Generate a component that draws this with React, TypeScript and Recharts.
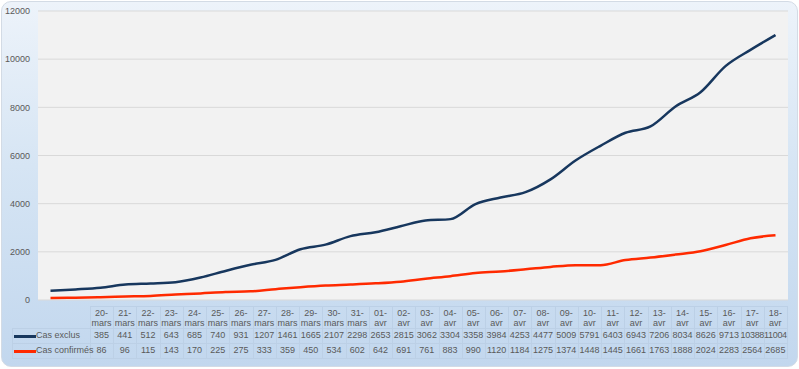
import React from "react"
import { LineChart, Line, XAxis, YAxis, CartesianGrid } from "recharts"

// dates (ligne d'en-tête du tableau)
const dates = [
  "20-mars", "21-mars", "22-mars", "23-mars", "24-mars", "25-mars", "26-mars",
  "27-mars", "28-mars", "29-mars", "30-mars", "31-mars",
  "01-avr", "02-avr", "03-avr", "04-avr", "05-avr", "06-avr", "07-avr",
  "08-avr", "09-avr", "10-avr", "11-avr", "12-avr", "13-avr", "14-avr",
  "15-avr", "16-avr", "17-avr", "18-avr",
]

const casExclus = [
  385, 441, 512, 643, 685, 740, 931, 1207, 1461, 1665, 2107, 2298, 2653, 2815,
  3062, 3304, 3358, 3984, 4253, 4477, 5009, 5791, 6403, 6943, 7206, 8034, 8626,
  9713, 10388, 11004,
]

const casConfirmes = [
  86, 96, 115, 143, 170, 225, 275, 333, 359, 450, 534, 602, 642, 691, 761, 883,
  990, 1120, 1184, 1275, 1374, 1448, 1445, 1661, 1763, 1888, 2024, 2283, 2564,
  2685,
]

const yTicks = [0, 2000, 4000, 6000, 8000, 10000, 12000]

const series = [
  { key: "exclus", name: "Cas exclus", color: "#17375e", values: casExclus },
  { key: "confirmes", name: "Cas confirmés", color: "#ff2a00", values: casConfirmes },
]

const data = dates.map((d, i) => ({
  date: d,
  exclus: casExclus[i],
  confirmes: casConfirmes[i],
}))

const FONT = "'Liberation Sans', Arial, sans-serif"
const TEXT = "#595959"
const LINE = "#bcd0e6"

// tableau de données
const tableLeft = 90
const tableRight = 787
const colW = (tableRight - tableLeft) / dates.length
const legendLeft = 12
const headerTop = 306
const row1Top = 328
const row2Top = 343
const tableBottom = 358

function DataTable() {
  const cell: React.CSSProperties = {
    position: "absolute",
    width: colW,
    textAlign: "center",
    fontSize: 9,
    color: TEXT,
    fontFamily: FONT,
    whiteSpace: "nowrap",
  }
  return (
    <>
      {/* lignes horizontales */}
      <div style={{ position: "absolute", left: tableLeft, top: headerTop, width: tableRight - tableLeft, height: 1, background: LINE }} />
      {[row1Top, row2Top, tableBottom].map((y) => (
        <div key={y} style={{ position: "absolute", left: legendLeft, top: y, width: tableRight - legendLeft, height: 1, background: LINE }} />
      ))}
      {/* lignes verticales */}
      <div style={{ position: "absolute", left: legendLeft, top: row1Top, width: 1, height: tableBottom - row1Top, background: LINE }} />
      {dates.map((_, i) => (
        <div key={i} style={{ position: "absolute", left: tableLeft + i * colW, top: headerTop, width: 1, height: tableBottom - headerTop, background: LINE }} />
      ))}
      <div style={{ position: "absolute", left: tableRight, top: headerTop, width: 1, height: tableBottom - headerTop + 1, background: LINE }} />

      {/* en-têtes */}
      {dates.map((d, i) => {
        const [day, month] = d.split("-")
        return (
          <div key={d} style={{ ...cell, left: tableLeft + i * colW, top: headerTop + 2, lineHeight: "10px" }}>
            {day}-<br />{month}
          </div>
        )
      })}

      {/* légende + valeurs */}
      {series.map((s, r) => {
        const top = r === 0 ? row1Top : row2Top
        return (
          <React.Fragment key={s.key}>
            <div style={{ position: "absolute", left: 14, top: top + 7, width: 22, height: 2.5, background: s.color }} />
            <div style={{ position: "absolute", left: 36, top: top + 2, fontSize: 9, color: TEXT, fontFamily: FONT, whiteSpace: "nowrap" }}>
              {s.name}
            </div>
            {s.values.map((v, i) => (
              <div key={i} style={{ ...cell, left: tableLeft + i * colW, top: top + 2, letterSpacing: v >= 10000 ? -0.3 : 0 }}>
                {v}
              </div>
            ))}
          </React.Fragment>
        )
      })}
    </>
  )
}

export default function App() {
  return (
    <div style={{ position: "absolute", left: 0, top: 0, width: 799, height: 369, background: "#fff" }}>
      <div
        style={{
          position: "absolute",
          left: 1,
          top: 1,
          width: 795,
          height: 364,
          borderRadius: 10,
          border: "1px solid #d3dbe5",
          background: "linear-gradient(to bottom, #edf3fa 0%, #d6e5f4 45%, #c2d7ee 100%)",
        }}
      />
      <div style={{ position: "absolute", left: 0, top: 0 }}>
        <LineChart width={799} height={310} data={data} margin={{ top: 11, right: 11, bottom: 10, left: 0 }}>
          <CartesianGrid vertical={false} stroke="#d9d9d9" fill="#f2f2f2" />
          <XAxis dataKey="date" hide padding={{ left: 12.5, right: 12.5 }} />
          <YAxis
            width={38}
            domain={[0, 12000]}
            ticks={yTicks}
            axisLine={false}
            tickLine={false}
            tick={{ fontSize: 9, fill: TEXT, fontFamily: FONT }}
          />
          {series.map((s) => (
            <Line
              key={s.key}
              dataKey={s.key}
              name={s.name}
              type="monotone"
              stroke={s.color}
              strokeWidth={2.5}
              dot={false}
              isAnimationActive={false}
            />
          ))}
        </LineChart>
      </div>
      <DataTable />
    </div>
  )
}
